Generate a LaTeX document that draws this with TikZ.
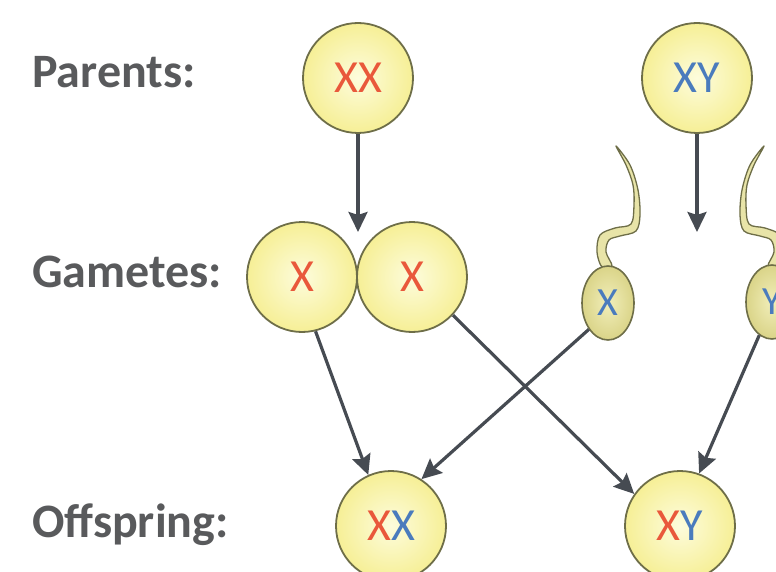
\documentclass[tikz,border=0pt]{standalone}
\usepackage{fontspec}
\setmainfont{Carlito}
\usetikzlibrary{arrows.meta,shapes.geometric}

\definecolor{labelgray}{HTML}{595A5C}
\definecolor{chrred}{HTML}{E9583B}
\definecolor{chrblue}{HTML}{4A7BBD}
\definecolor{cellrim}{HTML}{6E6E48}
\definecolor{cellin}{HTML}{FDFCDC}
\definecolor{cellout}{HTML}{F6EF96}
\definecolor{headin}{HTML}{F1EEBA}
\definecolor{headout}{HTML}{DAD488}
\definecolor{tailfill}{HTML}{E8E4A8}
\definecolor{arrowgray}{HTML}{464B52}

\tikzset{
  rowlabel/.style={anchor=base west, inner sep=0, text=labelgray,
    font=\fontsize{48}{48}\selectfont\bfseries},
  cell/.style={circle, minimum size=110pt, inner sep=0, draw=cellrim,
    line width=1.8pt, shading=radial, inner color=cellin, outer color=cellout,
    font=\fontsize{46}{46}\selectfont},
  spermhead/.style={ellipse, minimum width=52pt, minimum height=74pt,
    inner sep=0, draw=cellrim, line width=1.6pt, shading=radial,
    inner color=headin, outer color=headout, font=\fontsize{40}{40}\selectfont},
  spermtail/.style={draw=cellrim, fill=tailfill, line width=1.3pt,
    line join=round},
  link/.style={draw=arrowgray, line width=3.2pt,
    -{Stealth[length=20pt, width=19pt, inset=3pt]}},
}

\newcommand{\tailoutline}{%
  plot[smooth cycle, tension=0.55] coordinates {
    (616,146) (630,165) (638,190) (640,215) (636,231) (620,236)
    (609,240) (606,252) (612,266) (602,267) (597,252) (600,235)
    (615,228) (631,224) (634,205) (633,185) (626,165)}}

\begin{document}
\begin{tikzpicture}[x=1pt, y=-1pt]
\useasboundingbox (0,0) rectangle (776,572);
\clip (0,0) rectangle (776,572);

% row labels
\node[rowlabel] (lblpar) at (32,88) {Parents:};
\node[rowlabel] (lblgam) at (32,287) {Gametes:};
\node[rowlabel] (lbloff) at (32,537) {Offspring:};

% parents
\node[cell] (mother) at (358,78) {\textcolor{chrred}{XX}};
\node[cell] (father) at (697,78) {\textcolor{chrblue}{XY}};

% egg cells
\node[cell] (egga) at (302,277) {\textcolor{chrred}{X}};
\node[cell] (eggb) at (412,277) {\textcolor{chrred}{X}};

% sperm cells: tails first, heads on top
\path[spermtail] \tailoutline;
\begin{scope}[shift={(1380,0)}, xscale=-1]
  \path[spermtail] \tailoutline;
\end{scope}
\node[spermhead] (spermx) at (608,303) {\textcolor{chrblue}{X}};
\node[spermhead] (spermy) at (772,302) {\textcolor{chrblue}{Y}};

% offspring
\node[cell] (girl) at (391,526) {\textcolor{chrred}{X}\textcolor{chrblue}{X}};
\node[cell] (boy) at (680,526) {\textcolor{chrred}{X}\textcolor{chrblue}{Y}};

% free ends of the parent arrows
\coordinate (eggsplit) at (358,232);
\coordinate (spermsplit) at (697,232);

% arrows
\draw[link] (mother.south) -- (eggsplit);
\draw[link] (father.south) -- (spermsplit);
\draw[link] (egga.284) -- (girl.114);
\draw[link] (spermx.234) -- (girl.57);
\draw[link] (eggb.317) -- (boy.145);
\draw[link] (spermy.249) -- (boy.70);
\end{tikzpicture}
\end{document}
